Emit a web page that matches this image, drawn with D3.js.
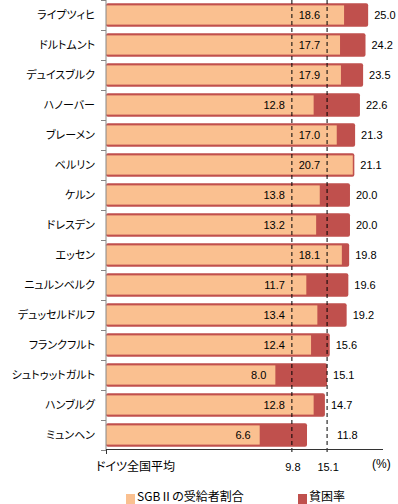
<!DOCTYPE html>
<html><head><meta charset="utf-8">
<script src="https://cdn.jsdelivr.net/npm/d3@7"></script>
<style>
html,body{margin:0;padding:0;background:#fff;}
svg{display:block;}
.cat{font-family:"Noto Sans CJK JP",sans-serif;font-size:11px;font-feature-settings:"palt";}
.num{font-family:"Liberation Sans",Arial,sans-serif;font-size:11px;}
.jp{font-family:"Noto Sans CJK JP",sans-serif;font-size:12px;font-feature-settings:"palt";}
</style></head>
<body>
<svg id="c" width="398" height="504"></svg>
<script>
const categories = ["ライプツィヒ","ドルトムント","デュイスブルク","ハノーバー","ブレーメン","ベルリン","ケルン","ドレスデン","エッセン","ニュルンベルク","デュッセルドルフ","フランクフルト","シュトゥットガルト","ハンブルグ","ミュンヘン"];
const sgbShare = [18.6,17.7,17.9,12.8,17.0,20.7,13.8,13.2,18.1,11.7,13.4,12.4,8.0,12.8,6.6];
const povertyRate = [25.0,24.2,23.5,22.6,21.3,21.1,20.0,20.0,19.8,19.6,19.2,15.6,15.1,14.7,11.8];
const nationalAvg = [9.8, 15.1];
const nationalLabel = "ドイツ全国平均";
const seriesNames = ["SGBⅡの受給者割合","貧困率"];
const unitLabel = "(%)";

const colOrange = "#FAC090", colRed = "#C0504D";
const svg = d3.select("#c");
const pL = 106, pR = 383, pT = 0, pB = 450;

const x = d3.scaleLog().domain([1, 30]).range([pL, pR]);
const y = d3.scaleBand().domain(categories).range([pT, pB]).padding(0);
const bw = y.bandwidth();
const redH = bw * 0.78, orH = bw * 0.64;

const rows = categories.map((c, i) => ({c, s: sgbShare[i], p: povertyRate[i]}));

// red bars
svg.append("g").selectAll("rect").data(rows).join("rect")
  .attr("x", x(1)).attr("y", d => y(d.c) + bw/2 - redH/2)
  .attr("width", d => x(d.p) - x(1)).attr("height", redH)
  .attr("rx", 2).attr("fill", colRed);
// orange bars
svg.append("g").selectAll("rect").data(rows).join("rect")
  .attr("x", x(1)).attr("y", d => y(d.c) + bw/2 - orH/2)
  .attr("width", d => x(d.s) - x(1)).attr("height", orH)
  .attr("fill", colOrange);

// reference dashed lines
const refX = nationalAvg.map(v => x(v));
svg.append("g").selectAll("line").data(nationalAvg).join("line")
  .attr("x1", d => x(d)).attr("x2", d => x(d))
  .attr("y1", pT).attr("y2", pB + 4)
  .attr("stroke", "#000").attr("stroke-width", 1).attr("stroke-dasharray", "4,3");

// axes
svg.append("line").attr("x1", pL).attr("x2", pL).attr("y1", pT).attr("y2", pB)
  .attr("stroke", "#868686");
svg.append("g").selectAll("line").data(d3.range(categories.length + 1)).join("line")
  .attr("x1", pL - 5).attr("x2", pL)
  .attr("y1", i => pT + i * bw + 0.5).attr("y2", i => pT + i * bw + 0.5)
  .attr("stroke", "#868686");
svg.append("line").attr("x1", pL).attr("x2", pR).attr("y1", pB - 0.5).attr("y2", pB - 0.5)
  .attr("stroke", "#333");
svg.append("line").attr("x1", pL + 0.5).attr("x2", pL + 0.5).attr("y1", pB).attr("y2", pB + 4)
  .attr("stroke", "#333");

// category labels
svg.append("g").selectAll("text").data(categories).join("text")
  .attr("class", "cat").attr("x", 95).attr("y", d => y(d) + bw/2)
  .attr("dy", "0.36em").attr("text-anchor", "end").text(d => d);

function hitsRef(a, b) { return refX.some(r => r >= a - 3 && r <= b + 3); }

// inner labels (SGB II)
const gIn = svg.append("g");
rows.forEach(d => {
  const t = gIn.append("text").attr("class", "num").attr("text-anchor", "end")
    .attr("y", y(d.c) + bw/2).attr("dy", "0.36em").text(d.s.toFixed(1));
  const w = t.node().getComputedTextLength();
  let xr = x(d.s) - 9;
  if (hitsRef(xr - w, xr)) {
    const cands = refX.filter(r => r < xr + 3);
    xr = d3.max(cands) - 7;
  }
  t.attr("x", xr);
});
// outer labels (poverty)
const gOut = svg.append("g");
rows.forEach(d => {
  const t = gOut.append("text").attr("class", "num").attr("text-anchor", "start")
    .attr("y", y(d.c) + bw/2).attr("dy", "0.36em").text(d.p.toFixed(1));
  const w = t.node().getComputedTextLength();
  let xl = x(d.p) + 6;
  if (hitsRef(xl, xl + w)) {
    const cands = refX.filter(r => r > xl - 3);
    xl = d3.min(cands) + 10;
  }
  t.attr("x", xl);
});

// x labels
svg.append("g").selectAll("text").data(nationalAvg).join("text")
  .attr("class", "num").attr("x", d => x(d) + 1).attr("y", 467).attr("dy", "0.36em")
  .attr("text-anchor", "middle").text(d => d.toFixed(1));
svg.append("text").attr("class", "jp").attr("x", 96).attr("y", 467).attr("dy", "0.36em")
  .text(nationalLabel);
svg.append("text").attr("class", "num").attr("x", 372).attr("y", 464).attr("dy", "0.36em")
  .style("font-size", "12px").text(unitLabel);

// legend
const leg = [{n: seriesNames[0], c: colOrange, x: 126}, {n: seriesNames[1], c: colRed, x: 298}];
const lg = svg.append("g").selectAll("g").data(leg).join("g");
lg.append("rect").attr("x", d => d.x).attr("y", 494).attr("width", 9).attr("height", 10).attr("fill", d => d.c);
lg.append("text").attr("class", "jp").attr("x", d => d.x + 11).attr("y", 497).attr("dy", "0.36em").text(d => d.n);
</script>
</body></html>
